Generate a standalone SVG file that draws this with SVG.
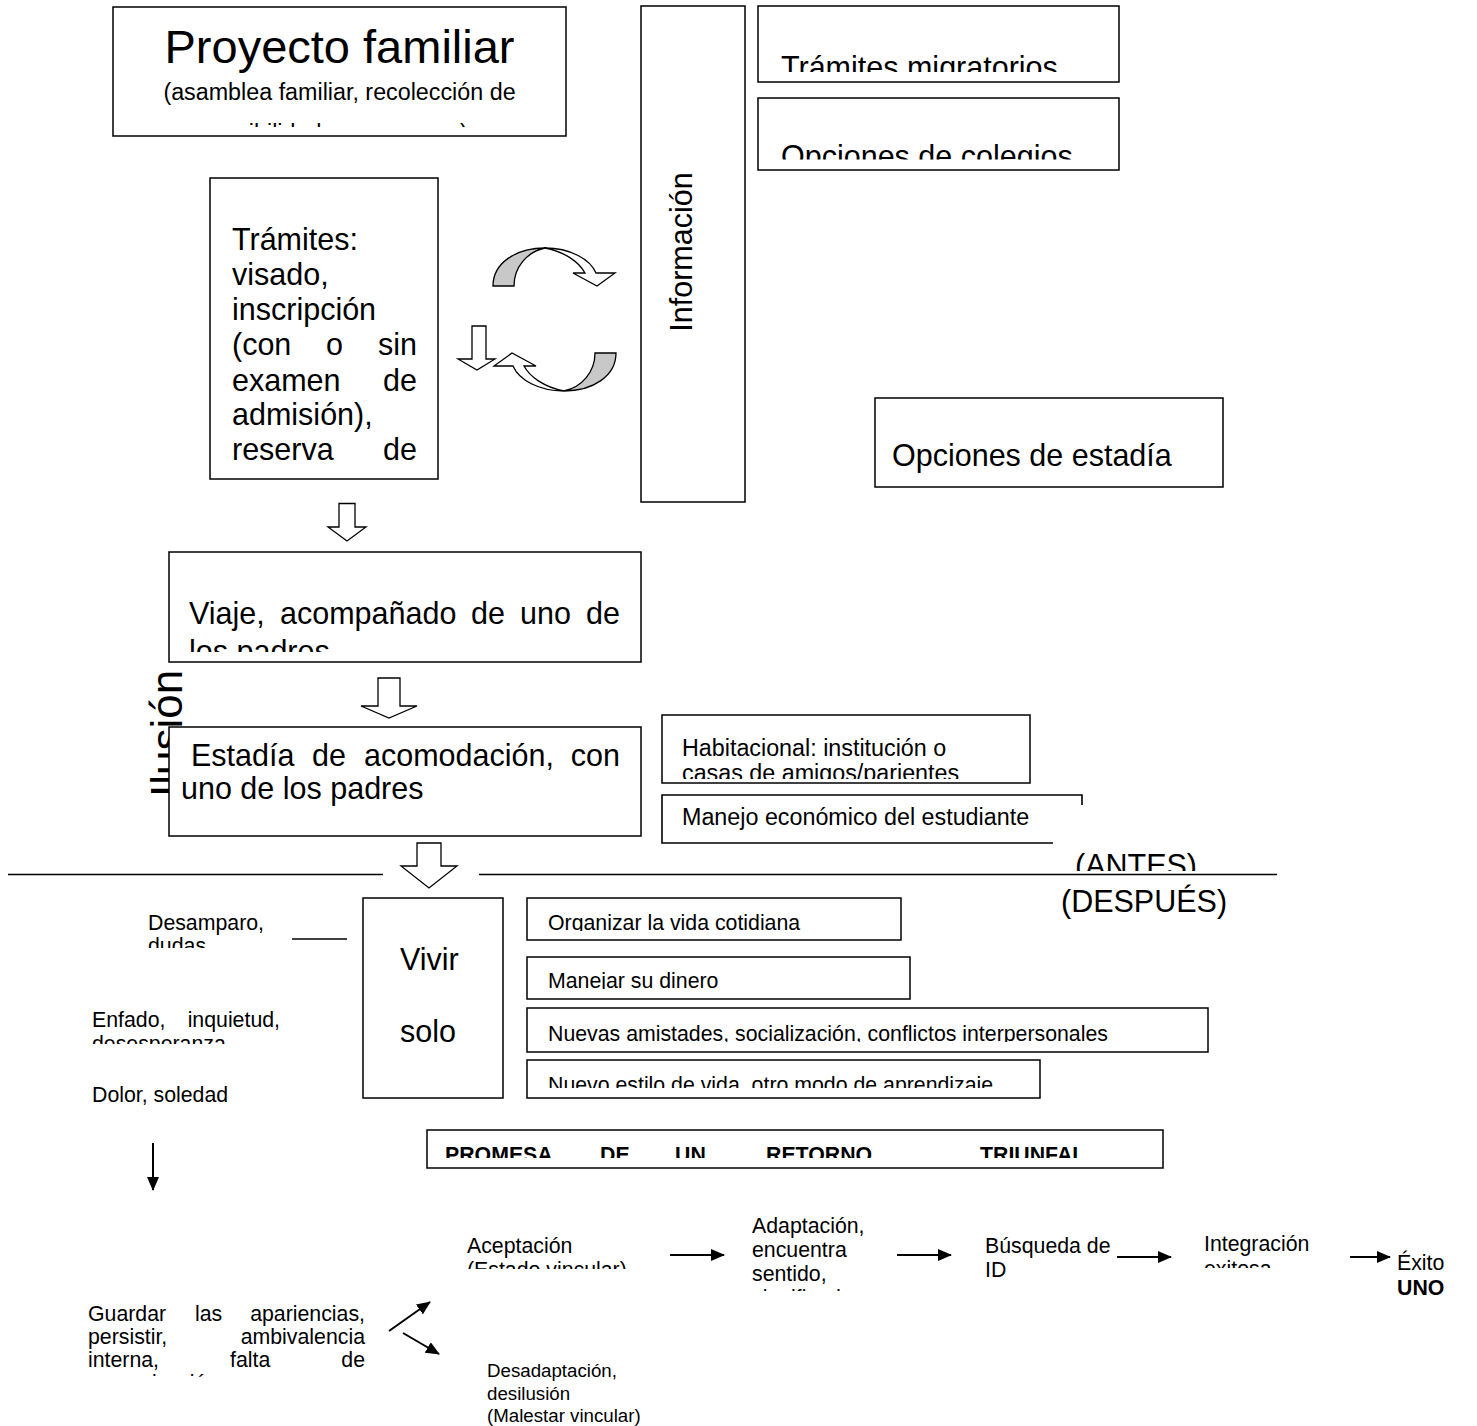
<svg xmlns="http://www.w3.org/2000/svg" width="1477" height="1426" viewBox="0 0 1477 1426">
<style>
text{font-family:"Liberation Sans",Arial,sans-serif;fill:#000}
.box{fill:#fff;stroke:#000;stroke-width:1.5}
.f47{font-size:47px}
.f44{font-size:44px}
.f30{font-size:30.5px}
.f23{font-size:23.3px}
.f21{font-size:21.3px}
.f19{font-size:18.7px}
.b{font-weight:bold}
.blk{fill:#fff;stroke:#000;stroke-width:1.3;stroke-linejoin:miter}
.gray{fill:#c8c8c8;stroke:#000;stroke-width:1.3}
.ln{stroke:#000;stroke-width:1.6;fill:none}
.arr{stroke:#000;stroke-width:2;fill:none;marker-end:url(#ah)}
</style>
<defs>
<marker id="ah" viewBox="0 0 14 12" refX="13" refY="6" markerWidth="14" markerHeight="12" markerUnits="userSpaceOnUse" orient="auto">
<path d="M0,0 L14,6 L0,12 Z" fill="#000"/>
</marker>
<clipPath id="cpProy"><rect x="113" y="7" width="453" height="120"/></clipPath>
<clipPath id="cpMigr"><rect x="758" y="6" width="361" height="66"/></clipPath>
<clipPath id="cpCol"><rect x="758" y="98" width="361" height="61.5"/></clipPath>
<clipPath id="cpTram"><rect x="210" y="178" width="228" height="291"/></clipPath>
<clipPath id="cpViaje"><rect x="169" y="552" width="472" height="100"/></clipPath>
<clipPath id="cpHab"><rect x="662" y="715" width="368" height="64"/></clipPath>
<clipPath id="cpAntes"><rect x="1050" y="830" width="250" height="41"/></clipPath>
<clipPath id="cpDudas"><rect x="100" y="900" width="200" height="48"/></clipPath>
<clipPath id="cpDeses"><rect x="80" y="1000" width="220" height="44"/></clipPath>
<clipPath id="cpOrg"><rect x="527" y="898" width="374" height="33"/></clipPath>
<clipPath id="cpMan"><rect x="527" y="957" width="383" height="32"/></clipPath>
<clipPath id="cpNuevas"><rect x="527" y="1008" width="681" height="34"/></clipPath>
<clipPath id="cpEstilo"><rect x="527" y="1060" width="513" height="28"/></clipPath>
<clipPath id="cpProm"><rect x="427" y="1130" width="736" height="28"/></clipPath>
<clipPath id="cpEstado"><rect x="460" y="1230" width="200" height="39"/></clipPath>
<clipPath id="cpAdapt"><rect x="745" y="1200" width="150" height="91"/></clipPath>
<clipPath id="cpExit"><rect x="1195" y="1230" width="150" height="38"/></clipPath>
<clipPath id="cpGuard"><rect x="80" y="1290" width="300" height="88"/></clipPath>
</defs>

<g id="proyecto">
<rect class="box" x="113" y="7" width="453" height="129"/>
<g clip-path="url(#cpProy)" text-anchor="middle">
<text class="f47" x="339.5" y="63">Proyecto familiar</text>
<text class="f23" x="339.5" y="100">(asamblea familiar, recolección de</text>
<text class="f23" x="339.5" y="141">posibilidades y recursos)</text>
</g>
</g>

<g id="informacion">
<rect class="box" x="641" y="6" width="104" height="496"/>
<text class="f30" text-anchor="middle" transform="translate(692,252) rotate(-90)">Información</text>
</g>

<g id="tramites-migratorios">
<rect class="box" x="758" y="6" width="361" height="76"/>
<text class="f30" x="781" y="78" clip-path="url(#cpMigr)">Trámites migratorios</text>
</g>

<g id="opciones-colegios">
<rect class="box" x="758" y="98" width="361" height="72"/>
<text class="f30" x="781" y="167" clip-path="url(#cpCol)">Opciones de colegios</text>
</g>

<g id="tramites">
<rect class="box" x="210" y="178" width="228" height="301"/>
<g clip-path="url(#cpTram)" class="f30">
<text x="232" y="250">Trámites:</text>
<text x="232" y="285">visado,</text>
<text x="232" y="320">inscripción</text>
<text y="355"><tspan x="232">(con</tspan><tspan x="326">o</tspan><tspan x="417" text-anchor="end">sin</tspan></text>
<text y="391"><tspan x="232">examen</tspan><tspan x="417" text-anchor="end">de</tspan></text>
<text x="232" y="425">admisión),</text>
<text y="460"><tspan x="232">reserva</tspan><tspan x="417" text-anchor="end">de</tspan></text>
<text x="232" y="495">alojamiento</text>
</g>
</g>

<g id="opciones-estadia">
<rect class="box" x="875" y="398" width="348" height="89"/>
<text class="f30" x="892" y="466">Opciones de estadía</text>
</g>

<g id="ilusion">
<text class="f44" transform="translate(182,797) rotate(-90)">Ilusión</text>
</g>

<g id="viaje">
<rect class="box" x="169" y="552" width="472" height="110"/>
<g clip-path="url(#cpViaje)" class="f30">
<text y="623.5"><tspan x="189">Viaje,</tspan><tspan x="280">acompañado</tspan><tspan x="471">de</tspan><tspan x="520">uno</tspan><tspan x="620" text-anchor="end">de</tspan></text>
<text x="189" y="662">los padres</text>
</g>
</g>

<g id="estadia">
<rect class="box" x="169" y="727" width="472" height="109"/>
<text class="f30" y="765.5"><tspan x="191">Estadía</tspan><tspan x="312">de</tspan><tspan x="364">acomodación,</tspan><tspan x="620" text-anchor="end">con</tspan></text>
<text class="f30" x="181" y="799">uno de los padres</text>
</g>

<g id="habitacional">
<rect class="box" x="662" y="715" width="368" height="68"/>
<g clip-path="url(#cpHab)" class="f23">
<text x="682" y="756">Habitacional: institución o</text>
<text x="682" y="781">casas de amigos/parientes</text>
</g>
</g>

<g id="manejo">
<path class="ln" d="M1053,843 L662,843 L662,795 L1082,795 L1082,805" stroke-width="1.5"/>
<text class="f23" x="682" y="825">Manejo económico del estudiante</text>
</g>

<g id="antes-despues">
<text class="f30" x="1075" y="876" clip-path="url(#cpAntes)">(ANTES)</text>
<text class="f30" x="1061" y="912">(DESPUÉS)</text>
</g>

<g id="vivir-solo">
<rect class="box" x="363" y="898" width="140" height="200"/>
<text class="f30" x="400" y="970">Vivir</text>
<text class="f30" x="400" y="1042">solo</text>
</g>

<g id="organizar">
<rect class="box" x="527" y="898" width="374" height="42"/>
<text class="f21" x="548" y="930" clip-path="url(#cpOrg)">Organizar la vida cotidiana</text>
</g>
<g id="manejar">
<rect class="box" x="527" y="957" width="383" height="42"/>
<text class="f21" x="548" y="988" clip-path="url(#cpMan)">Manejar su dinero</text>
</g>
<g id="nuevas">
<rect class="box" x="527" y="1008" width="681" height="44"/>
<text class="f21" x="548" y="1041" clip-path="url(#cpNuevas)">Nuevas amistades, socialización, conflictos interpersonales</text>
</g>
<g id="estilo">
<rect class="box" x="527" y="1060" width="513" height="38"/>
<text class="f21" x="548" y="1092" clip-path="url(#cpEstilo)">Nuevo estilo de vida, otro modo de aprendizaje</text>
</g>

<g id="promesa">
<rect class="box" x="427" y="1130" width="736" height="38"/>
<text class="f21 b" y="1162" clip-path="url(#cpProm)"><tspan x="445">PROMESA</tspan><tspan x="600">DE</tspan><tspan x="675">UN</tspan><tspan x="766">RETORNO</tspan><tspan x="980">TRIUNFAL</tspan></text>
</g>

<g id="emociones">
<text class="f21" x="148" y="930">Desamparo,</text>
<text class="f21" x="148" y="953" clip-path="url(#cpDudas)">dudas</text>
<text class="f21" y="1027"><tspan x="92">Enfado,</tspan><tspan x="280" text-anchor="end">inquietud,</tspan></text>
<text class="f21" x="92" y="1051" clip-path="url(#cpDeses)">desesperanza</text>
<text class="f21" x="92" y="1102">Dolor, soledad</text>
</g>

<g id="guardar">
<g clip-path="url(#cpGuard)" class="f21">
<text y="1321"><tspan x="88">Guardar</tspan><tspan x="195">las</tspan><tspan x="365" text-anchor="end">apariencias,</tspan></text>
<text y="1344"><tspan x="88">persistir,</tspan><tspan x="365" text-anchor="end">ambivalencia</tspan></text>
<text y="1367"><tspan x="88">interna,</tspan><tspan x="230">falta</tspan><tspan x="365" text-anchor="end">de</tspan></text>
<text x="88" y="1390">comunicación</text>
</g>
</g>

<g id="aceptacion">
<text class="f21" x="467" y="1253">Aceptación</text>
<text class="f21" x="467" y="1277" clip-path="url(#cpEstado)">(Estado vincular)</text>
</g>
<g id="adaptacion">
<g clip-path="url(#cpAdapt)" class="f21">
<text x="752" y="1233">Adaptación,</text>
<text x="752" y="1257">encuentra</text>
<text x="752" y="1281">sentido,</text>
<text x="752" y="1305">significado</text>
</g>
</g>
<g id="busqueda">
<text class="f21" x="985" y="1253">Búsqueda de</text>
<text class="f21" x="985" y="1277">ID</text>
</g>
<g id="integracion">
<text class="f21" x="1204" y="1251">Integración</text>
<text class="f21" x="1204" y="1276" clip-path="url(#cpExit)">exitosa</text>
</g>
<g id="exito">
<text class="f21" x="1397" y="1270">Éxito</text>
<text class="f21 b" x="1397" y="1295">UNO</text>
</g>
<g id="desadaptacion">
<text class="f19" x="487" y="1377">Desadaptación,</text>
<text class="f19" x="487" y="1400">desilusión</text>
<text class="f19" x="487" y="1422">(Malestar vincular)</text>
</g>

<g id="connectors">
<path class="gray" d="M493,286 C493,263 516,248 545,248 C527,252 514,267 514,286 Z"/>
<path class="blk" d="M545,248 C570,248 590,259 596,273 L615,273 L597,286 L573,273 L585,273 C579,262 565,252 545,248 Z"/>
<g transform="rotate(180 554.5 319.5)">
<path class="gray" d="M493,286 C493,263 516,248 545,248 C527,252 514,267 514,286 Z"/>
<path class="blk" d="M545,248 C570,248 590,259 596,273 L615,273 L597,286 L573,273 L585,273 C579,262 565,252 545,248 Z"/>
</g>
<path class="blk" d="M472,326 L486,326 L486,359 L495,359 L477,370 L458,359 L472,359 Z"/>
<path class="blk" d="M339,503.5 L355,503.5 L355,527 L366,527 L347,541 L328,527 L339,527 Z"/>
<path class="blk" d="M378,678 L400,678 L400,706 L417,706 L389,718 L361,706 L378,706 Z"/>
<line class="ln" x1="8" y1="874.5" x2="383" y2="874.5"/>
<line class="ln" x1="479" y1="874.5" x2="1277" y2="874.5"/>
<path class="blk" d="M417,843 L441,843 L441,866 L457,866 L429,888 L401,866 L417,866 Z"/>
<line class="ln" x1="292" y1="939" x2="347" y2="939" stroke-width="2"/>
<line class="arr" x1="153" y1="1143" x2="153" y2="1190"/>
<line class="arr" x1="670" y1="1255" x2="724" y2="1255"/>
<line class="arr" x1="897" y1="1255" x2="951" y2="1255"/>
<line class="arr" x1="1117" y1="1257" x2="1171" y2="1257"/>
<line class="arr" x1="1350" y1="1257" x2="1390" y2="1257"/>
<line class="arr" x1="389" y1="1331" x2="430" y2="1302"/>
<line class="arr" x1="403" y1="1333" x2="439" y2="1354"/>
</g>
</svg>
